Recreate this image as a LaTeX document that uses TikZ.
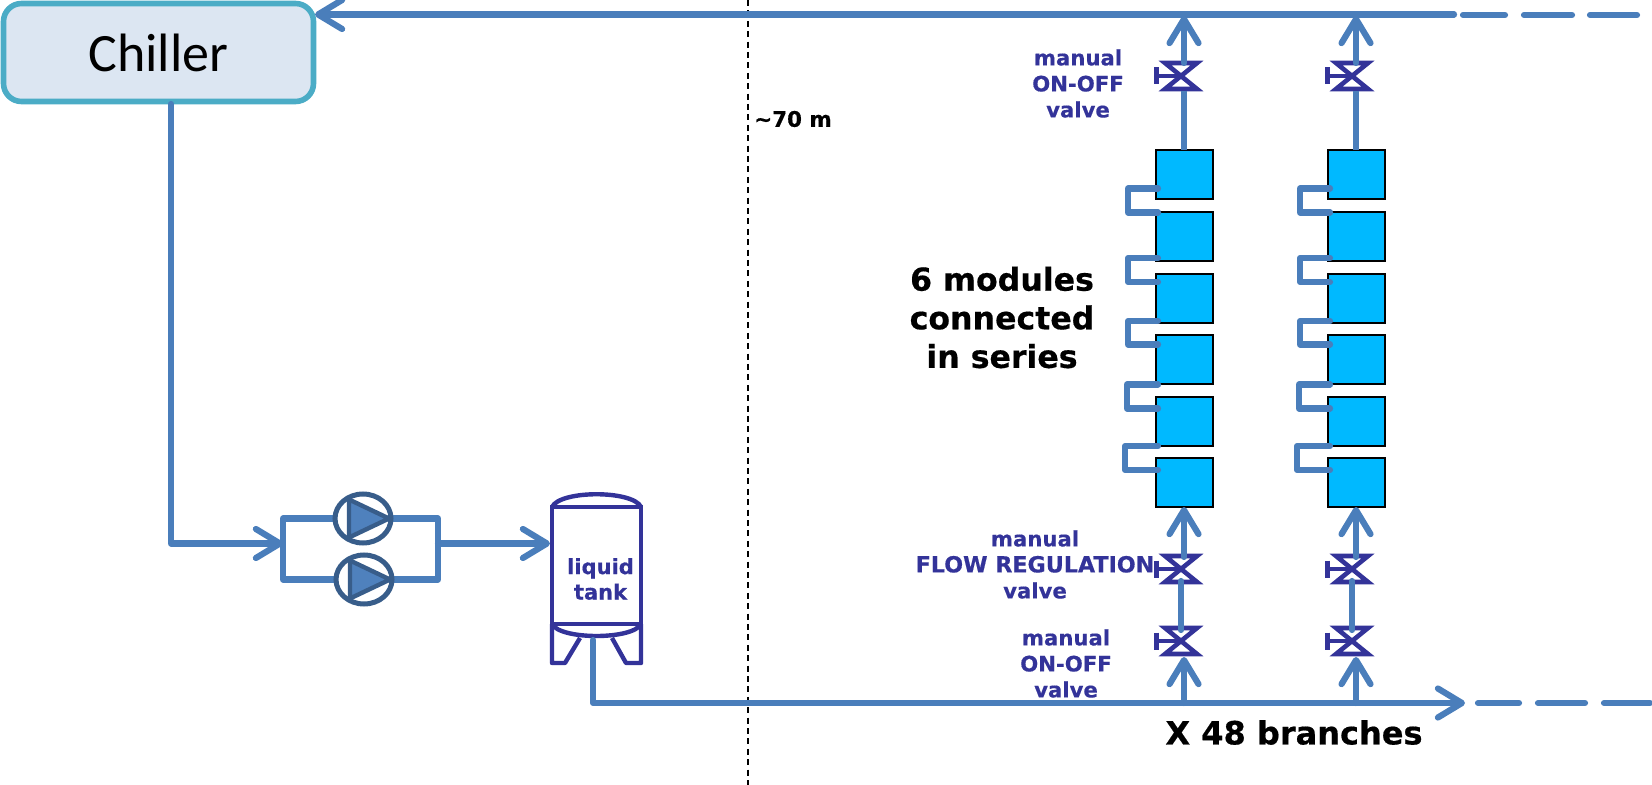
\documentclass[tikz,border=0pt]{standalone}
\usepackage{fontspec}
\setmainfont{DejaVu Sans}[BoldFeatures={FakeBold=0.5}]
\newfontfamily\chillerfont{Carlito}
\usetikzlibrary{arrows.meta,shapes.geometric}
\definecolor{pipec}{HTML}{4A7EBB}
\definecolor{inkc}{HTML}{333399}
\definecolor{pumpc}{HTML}{385D8A}
\definecolor{pumpf}{HTML}{4F81BD}
\definecolor{chillb}{HTML}{4BACC6}
\definecolor{chillf}{HTML}{DCE6F2}
\definecolor{modc}{HTML}{00B9FF}
\pgfdeclarelayer{bg}
\pgfsetlayers{bg,main}
\tikzset{
  pipe/.style={draw=pipec,line width=3.1pt,line cap=round,line join=round},
  flow/.style={pipe,-{Straight Barb[length=12pt,width=14.5pt,round]}},
  module/.style={draw=black,fill=modc,line width=1.1pt,minimum width=28.5pt,minimum height=24.5pt,inner sep=0pt,outer sep=0pt,anchor=north west},
  bluetxt/.style={text=inkc,font=\fontsize{10.6}{13}\selectfont\bfseries,align=center,inner sep=0pt},
  blacktxt/.style={text=black,font=\fontsize{15.8}{19.3}\selectfont\bfseries,align=center,inner sep=0pt},
  pumpnode/.style={ellipse,draw=pumpc,fill=white,line width=2.5pt,minimum width=28pt,minimum height=24.5pt,inner sep=0pt,outer sep=0pt},
  pics/valve/.style={code={
    \draw[inkc,line width=2.3pt,line join=miter] (-16,-13)--(16,-13)--(-16,13)--(16,13)--cycle;
    \draw[inkc,line width=2.3pt] (-24.5,0)--(0,0) (-24.5,-8.5)--(-24.5,8.5);
  }},
  pics/pumpsym/.style={code={
    \draw[pumpc,fill=pumpf,line width=2.2pt,line join=round] (-14,-19)--(26,0)--(-14,19)--cycle;
  }}
}
\begin{document}
\begin{tikzpicture}[x=0.5pt,y=-0.5pt]
\useasboundingbox (0,0) rectangle (1652,785);

% dashed distance mark
\coordinate (marktop) at (748,0);
\coordinate (markbot) at (748,785);
\draw[black,line width=0.9pt,dash pattern=on 3pt off 2.2pt] (marktop) -- (markbot);
\node[inner sep=0pt,font=\fontsize{10.7}{12}\selectfont\bfseries] (dist) at (793,119) {\char`\~70 m};

% chiller
\node[draw=chillb,fill=chillf,line width=2.8pt,rounded corners=9pt,minimum width=155pt,minimum height=49pt,inner sep=0pt,font=\fontsize{27}{30}\selectfont\chillerfont] (chiller) at (158.5,52.5) {\raisebox{-1pt}{Chiller}};

% return header
\coordinate (retend) at (1454,14.5);
\coordinate (retin) at (315,14.5);
\draw[flow] (retend) -- (retin);
\foreach \a/\b/\n in {1463/1505/a,1524/1572/b,1590/1637/c}{
  \coordinate (rd\n1) at (\a,15);
  \coordinate (rd\n2) at (\b,15);
  \draw[pipe] (rd\n1) -- (rd\n2);
}

% pumps
\node[pumpnode] (pump1) at (363,518.5) {};
\node[pumpnode] (pump2) at (364,579.5) {};
\pic at (pump1) {pumpsym};
\pic at (pump2) {pumpsym};
\coordinate (pin) at (283,543.5);
\coordinate (pout) at (438,543.5);
\coordinate (chillout) at (171,104);
\begin{pgfonlayer}{bg}
  \draw[pipe] (pin) |- (pump1.center) -| (pout) |- (pump2.center) -| (pin);
\end{pgfonlayer}
\draw[flow] (chillout) |- (pin);

% tank
\node[draw=inkc,line width=2.2pt,minimum width=44.5pt,minimum height=58.5pt,inner sep=0pt,outer sep=0pt] (tank) at (596.5,565.5) {};
\draw[inkc,line width=2.2pt,line join=round]
  (tank.north west) .. controls (560,490) and (633,490) .. (tank.north east)
  (tank.south west) .. controls (560,640) and (633,640) .. (tank.south east);
\draw[inkc,line width=2.2pt,line join=round]
  (tank.south west) -- (552,663) -- (565,663) -- (580,638)
  (tank.south east) -- (641,663) -- (626,663) -- (612,638);
\node[bluetxt,font=\fontsize{10.5}{12.7}\selectfont\bfseries] (tanklabel) at (600.5,579) {liquid\\tank};
\coordinate (tankin) at (550,543.5);
\draw[flow] (pout) -- (tankin);

% supply header
\coordinate (tankout) at (593,640);
\coordinate (suptip) at (1465,703);
\draw[flow] (tankout) |- (suptip);
\foreach \a/\b/\n in {1478/1519/a,1538/1585/b,1604/1650/c}{
  \coordinate (sd\n1) at (\a,703);
  \coordinate (sd\n2) at (\b,703);
  \draw[pipe] (sd\n1) -- (sd\n2);
}

% branches
\foreach \c/\px/\vx/\mx/\lx/\ly/\lz in {A/1184/1181/1156/1128/1127/1125,B/1356/1352/1328/1300/1299/1297}{
  % valves
  \coordinate (\c v1) at (\vx,76);
  \coordinate (\c v2) at (\vx,569);
  \coordinate (\c v3) at (\vx,641);
  \pic at (\c v1) {valve};
  \pic at (\c v2) {valve};
  \pic at (\c v3) {valve};
  % modules
  \foreach \i/\y in {1/150,2/212,3/274,4/335,5/397,6/458}{
    \node[module] (\c m\i) at (\mx,\y) {};
  }
  % branch pipes
  \coordinate (\c a) at (\px,703);
  \coordinate (\c b) at (\px,657);
  \coordinate (\c c) at (\vx,630);
  \coordinate (\c d) at (\vx,581);
  \coordinate (\c e) at (\px,557);
  \coordinate (\c f) at (\px,91);
  \coordinate (\c g) at (\px,63);
  \coordinate (\c h) at (\px,16);
  \draw[flow] (\c a) -- (\c b);
  \draw[pipe] (\c c) -- (\c d);
  \draw[flow] (\c e) -- (\c m6.south -| \c e);
  \draw[pipe,line cap=butt] (\c f) -- (\c m1.north -| \c f);
  \draw[flow] (\c g) -- (\c h);
  % series links
  \foreach \i/\j/\ya/\yb/\vxx in {1/2/188.5/212.5/\lx,2/3/258/282/\lx,3/4/321/344.5/\lx,4/5/384.5/408.5/\ly,5/6/446/470/\lz}{
    \coordinate (\c s\i) at ([xshift=1pt]\c m\i.north west |- 0,\ya);
    \coordinate (\c t\i) at ([xshift=1pt]\c m\j.north west |- 0,\yb);
    \coordinate (\c u\i) at (\vxx,\ya);
    \coordinate (\c w\i) at (\vxx,\yb);
    \draw[pipe] (\c s\i) -- (\c u\i) -- (\c w\i) -- (\c t\i);
  }
}

% labels
\node[bluetxt] (lab1) at (1078,83.5) {manual\\ON-OFF\\valve};
\node[bluetxt] (lab2) at (1035,564.5) {manual\\{\fontsize{11.1}{13}\selectfont FLOW REGULATION}\\valve};
\node[bluetxt] (lab3) at (1066,663.5) {manual\\ON-OFF\\valve};
\node[blacktxt] (lab4) at (1002,317.5) {6 modules\\connected\\in series};
\node[blacktxt,font=\fontsize{16}{19}\selectfont\bfseries] (lab5) at (1294,732.5) {X 48 branches};
\end{tikzpicture}
\end{document}
